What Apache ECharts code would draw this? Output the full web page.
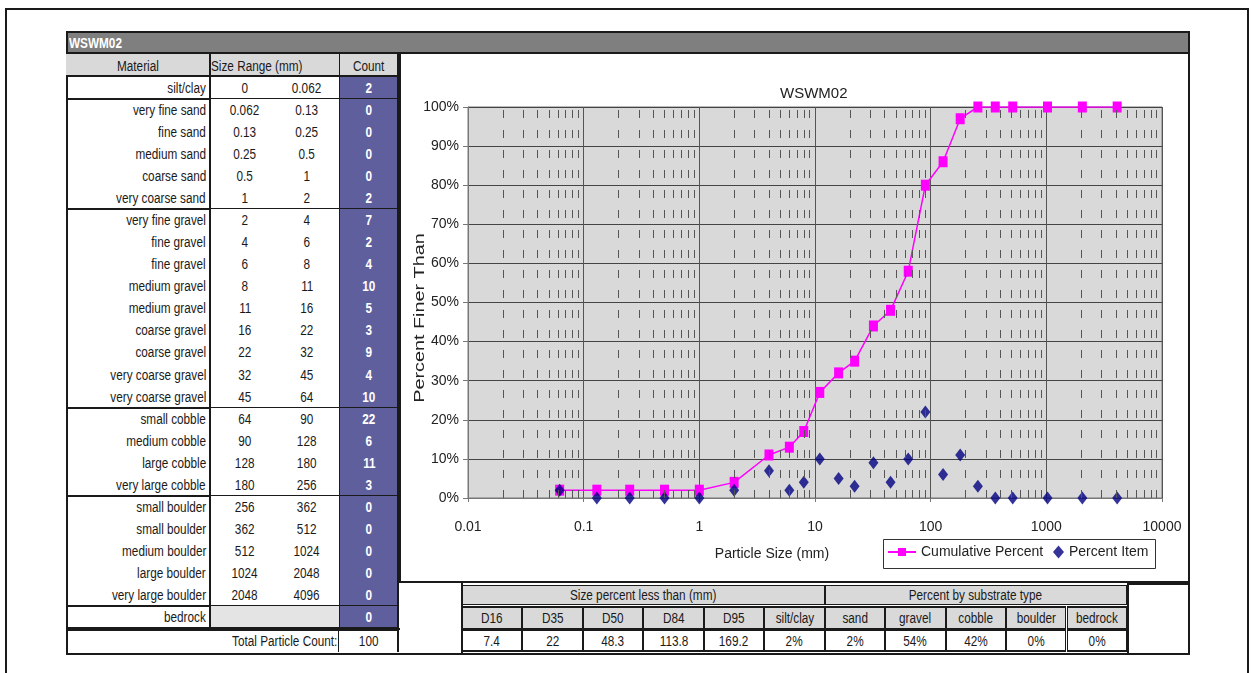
<!DOCTYPE html>
<html>
<head>
<meta charset="utf-8">
<script src="https://cdn.jsdelivr.net/npm/echarts/dist/echarts.min.js"></script>
<style>
  html, body { margin:0; padding:0; background:#fff; }
  #page { position:relative; width:1252px; height:673px; overflow:hidden; background:#fff; }
  .r { position:absolute; box-sizing:border-box; }
  .t { position:absolute; box-sizing:border-box; white-space:nowrap; font-family:"Liberation Sans",Arial,sans-serif; font-size:14px; color:#1a1a1a; display:flex; align-items:center; }
  .t span { display:inline-block; transform:scaleX(0.84); }
  #chart { position:absolute; left:401px; top:56px; width:787px; height:525px; }
</style>
</head>
<body>
<div id="page"></div>
<script>
// ---------- data ----------
const materials = ['silt/clay','very fine sand','fine sand','medium sand','coarse sand','very coarse sand',
  'very fine gravel','fine gravel','fine gravel','medium gravel','medium gravel','coarse gravel','coarse gravel',
  'very coarse gravel','very coarse gravel','small cobble','medium cobble','large cobble','very large cobble',
  'small boulder','small boulder','medium boulder','large boulder','very large boulder','bedrock'];
const sizeMin = ['0','0.062','0.13','0.25','0.5','1','2','4','6','8','11','16','22','32','45','64','90','128','180','256','362','512','1024','2048',''];
const sizeMax = ['0.062','0.13','0.25','0.5','1','2','4','6','8','11','16','22','32','45','64','90','128','180','256','362','512','1024','2048','4096',''];
const counts = [2,0,0,0,0,2,7,2,4,10,5,3,9,4,10,22,6,11,3,0,0,0,0,0,0];
const totalCount = '100';

const particleSize = [0.062,0.13,0.25,0.5,1,2,4,6,8,11,16,22,32,45,64,90,128,180,256,362,512,1024,2048,4096];
const cumulativePercent = [2,2,2,2,2,4,11,13,17,27,32,35,44,48,58,80,86,97,100,100,100,100,100,100];
const percentItem = [2,0,0,0,0,2,7,2,4,10,5,3,9,4,10,22,6,11,3,0,0,0,0,0];

const sizeLabels = ['D16','D35','D50','D84','D95','silt/clay'];
const sizeValues = ['7.4','22','48.3','113.8','169.2','2%'];
const substrateLabels = ['sand','gravel','cobble','boulder','bedrock'];
const substrateValues = ['2%','54%','42%','0%','0%'];

const xTickLabels = ['0.01','0.1','1','10','100','1000','10000'];

// ---------- layout helpers ----------
const page = document.getElementById('page');
function rect(x,y,w,h,css){ const d=document.createElement('div'); d.className='r'; d.style.cssText=`left:${x}px;top:${y}px;width:${w}px;height:${h}px;`+(css||''); page.appendChild(d); return d; }
function text(x,y,w,h,s,align,css){ const d=document.createElement('div'); d.className='t';
  const sp=document.createElement('span'); sp.textContent=s;
  sp.style.transformOrigin = align==='right'?'right center':align==='left'?'left center':'center center';
  d.appendChild(sp);
  d.style.cssText=`left:${x}px;top:${y}px;width:${w}px;height:${h}px;justify-content:${align==='right'?'flex-end':align==='left'?'flex-start':'center'};`+(css||''); page.appendChild(d); return d; }

const B = '#1a1a1a';
// outer frame
rect(5,8,1244,700,`border:2px solid ${B};`);
// main box + title bar
rect(66,31,1124,23,`background:#7f7f7f;border:2px solid ${B};`);
text(69,31,100,23,'WSWM02','left','color:#fff;font-weight:bold;font-size:14px;');
rect(66,31,1124,624,`border:2px solid ${B};`);

// ---- left table ----
const rowTop = 77, rowH = 22.04;
rect(66,54,143,23,`background:#d9d9d9;border-bottom:2px solid ${B};`);
text(66,54,143,23,'Material','center');
rect(209,54,130,23,`background:#d9d9d9;border-left:2px solid ${B};border-bottom:2px solid ${B};`);
text(211,54,126,23,'Size Range (mm)','left');
rect(339,54,60,23,`background:#d9d9d9;border-left:1px solid ${B};border-bottom:2px solid ${B};border-right:2px solid ${B};`);
text(339,54,60,23,'Count','center');

const groupEnd = {0:1,5:1,14:1,18:1,23:1,24:1};
for (let i=0;i<materials.length;i++){
  const y = rowTop + i*rowH;
  const gb = groupEnd[i] ? `border-bottom:2px solid ${B};` : '';
  text(66,y,141,rowH,materials[i],'right','padding-right:1px;');
  if (gb) rect(66,y,143,rowH+1,gb);
  const bedrock = i===materials.length-1;
  rect(209,y,130,rowH+1,`background:${bedrock?'#e4e4e4':'#fff'};border-left:2px solid ${B};border-bottom:${groupEnd[i]?2:1}px solid ${B};`);
  text(215,y,60,rowH,sizeMin[i],'center');
  text(277,y,60,rowH,sizeMax[i],'center');
  rect(339,y,60,rowH+1,`background:#5f5f9e;border-left:1px solid ${B};border-right:2px solid ${B};border-bottom:${groupEnd[i]?2:1}px solid ${B};`);
  text(339,y,60,rowH,String(counts[i]),'center','color:#fff;font-weight:bold;');
}
// total row
rect(66,628,334,2,`background:${B};`);
rect(66,630,273,22,`border-top:1px solid ${B};border-right:1px solid ${B};`);
text(66,630,271,22,'Total Particle Count:','right');
rect(339,630,60,22,`border-top:1px solid ${B};border-right:2px solid ${B};`);
text(339,630,60,22,totalCount,'center');

// chart box borders
rect(399,54,791,529,`border-left:2px solid ${B};border-bottom:2px solid ${B};`);

// ---- bottom tables ----
rect(399,583,64,72,`border-right:2px solid ${B};`);
const cw = 60.45, cx0 = 462;
rect(cx0,585,cw*6,20,`background:#d9d9d9;border:1px solid ${B};`);
text(cx0,585,cw*6,20,'Size percent less than (mm)','center');
rect(cx0+cw*6,585,cw*5,20,`background:#d9d9d9;border:1px solid ${B};`);
text(cx0+cw*6,585,cw*5,20,'Percent by substrate type','center');
const hdrs = sizeLabels.concat(substrateLabels), vals = sizeValues.concat(substrateValues);
for (let j=0;j<hdrs.length;j++){
  const x = cx0 + j*cw;
  rect(x,606,cw,23,`background:#d9d9d9;border:1px solid ${B};border-top:2px solid ${B};`);
  text(x,606,cw,23,hdrs[j],'center');
  rect(x,629,cw,23,`background:#fff;border:1px solid ${B};border-top:2px solid ${B};border-bottom:2px solid ${B};`);
  text(x,629,cw,23,vals[j],'center');
}
rect(cx0+cw*11,583,1190-(cx0+cw*11),72,`border-left:2px solid ${B};border-top:2px solid ${B};`);

// ---------- chart ----------
const cdiv = document.createElement('div'); cdiv.id='chart'; page.appendChild(cdiv);
const chart = echarts.init(cdiv, null, {renderer:'canvas'});
const FONT = '"Liberation Sans", Arial, sans-serif';

const minorX = [];
for (let k=-2;k<=3;k++) for (let m=2;m<=9;m++) minorX.push(Number((m*Math.pow(10,k)).toPrecision(6)));

chart.setOption({
  animation:false,
  textStyle:{fontFamily:FONT},
  title:{text:'WSWM02', left:374, top:25, textStyle:{fontFamily:FONT,fontSize:15,fontWeight:'normal',color:'#222'}},
  legend:[
    {data:['Cumulative Percent'], left:486, top:489, padding:0, itemWidth:28, itemHeight:10,
      textStyle:{fontFamily:FONT,fontSize:14,color:'#222'}},
    {data:['Percent Item'], left:652, top:489, padding:0, itemWidth:11, itemHeight:13,
      textStyle:{fontFamily:FONT,fontSize:14,color:'#222'}}
  ],
  grid:{left:67, top:51, width:694, height:391, show:true, backgroundColor:'#d9d9d9', borderColor:'#777', borderWidth:1},
  xAxis:{
    type:'log', logBase:10, min:0.01, max:10000,
    axisLine:{show:true,lineStyle:{color:'#777'}},
    axisTick:{show:true,length:4,lineStyle:{color:'#777'}},
    axisLabel:{margin:22,fontSize:14,color:'#222',fontFamily:FONT,
      formatter:(v)=>{const s=String(Number(v.toPrecision(6))); return xTickLabels.includes(s)?s:'';}},
    splitLine:{show:true,lineStyle:{color:'#555',width:1}}
  },
  yAxis:{
    type:'value', min:0, max:100, interval:10,
    axisLine:{show:true,lineStyle:{color:'#777'}},
    axisTick:{show:true,length:5,lineStyle:{color:'#777'}},
    axisLabel:{formatter:'{value}%',fontSize:14,color:'#222',margin:9,fontFamily:FONT},
    splitLine:{show:true,lineStyle:{color:'#444',width:1}}
  },
  graphic:[
    {type:'rect', z:2, shape:{x:482.5, y:483.5, width:272, height:29}, style:{fill:'#fff', stroke:'#333', lineWidth:1}},
    {type:'text', x:371, y:498, style:{text:'Particle Size (mm)', font:`14px ${FONT}`, fill:'#222', align:'center', verticalAlign:'middle'}},
    {type:'text', x:19, y:262, rotation:Math.PI/2, scaleX:1.32, style:{text:'Percent Finer Than', font:`15px ${FONT}`, fill:'#222', align:'center', verticalAlign:'middle'}}
  ],
  series:[
    {name:'minor', type:'line', data:[], z:1, silent:true,
      markLine:{silent:true, symbol:'none', label:{show:false}, animation:false,
        lineStyle:{color:'#555', width:1, type:[8,12]},
        emphasis:{disabled:true},
        data: minorX.map(x=>[{coord:[x,0]},{coord:[x,100]}])}},
    {name:'Cumulative Percent', type:'line', z:3,
      data: particleSize.map((x,i)=>[x,cumulativePercent[i]]),
      symbol:'rect', symbolSize:[9,11], showAllSymbol:true,
      itemStyle:{color:'#ff00ff'}, lineStyle:{color:'#ff00ff',width:1.5}},
    {name:'Percent Item', type:'scatter', z:4,
      data: particleSize.map((x,i)=>[x,percentItem[i]]),
      symbol:'diamond', symbolSize:[10,13],
      itemStyle:{color:'#000080'}}
  ]
});
</script>
</body>
</html>
